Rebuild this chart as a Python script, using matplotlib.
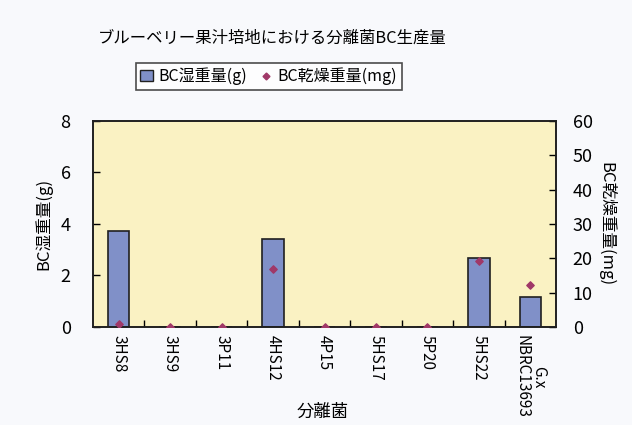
import matplotlib
matplotlib.use("Agg")
import matplotlib.pyplot as plt
from matplotlib.lines import Line2D
from matplotlib.patches import Patch

plt.rcParams['font.family'] = ['Noto Sans CJK JP', 'DejaVu Sans']

# Data
strains = ["3HS8", "3HS9", "3P11", "4HS12", "4P15", "5HS17", "5P20", "5HS22", "G.x\nNBRC13693"]
wet_g = [3.73, 0, 0, 3.42, 0, 0, 0, 2.67, 1.18]
dry_mg = [1.0, 0, 0, 16.8, 0, 0, 0, 19.3, 12.2]

title = "ブルーベリー果汁培地における分離菌BC生産量"
wet_label = "BC湿重量(g)"
dry_label = "BC乾燥重量(mg)"

# Colors
fig_bg = "#F8F9FC"
plot_bg = "#FAF2C3"
bar_color = "#8090C8"
dot_color = "#A03868"

fig = plt.figure(figsize=(6.32, 4.25), dpi=100, facecolor=fig_bg)
ax = fig.add_axes([0.147, 0.2306, 0.733, 0.4847])
ax.set_facecolor(plot_bg)

x = list(range(len(strains)))
ax.bar(x, wet_g, width=0.42, color=bar_color, edgecolor="#202020", linewidth=1.2, zorder=2)
ax.set_xlim(-0.5, len(strains) - 0.5)
ax.set_ylim(0, 8)
ax.set_yticks([0, 2, 4, 6, 8])
ax.set_xticks(x)
ax.set_xticklabels(strains, rotation=270, fontsize=11, va="top", ha="center",
                   multialignment="center", linespacing=1.0)
ax.set_xticks([i + 0.5 for i in x[:-1]], minor=True)
ax.tick_params(axis="x", which="major", length=0, pad=6)
ax.tick_params(axis="x", which="minor", direction="in", length=5, width=1)
ax.tick_params(axis="y", direction="in", length=5, width=1, labelsize=13, pad=16)
ax.set_ylabel(wet_label, fontsize=12, labelpad=6)
for s in ax.spines.values():
    s.set_linewidth(1.2)
    s.set_color("#202020")

ax2 = ax.twinx()
ax2.scatter(x, dry_mg, marker="D", s=14, color=dot_color, zorder=3)
ax2.set_ylim(0, 60)
ax2.set_yticks([0, 10, 20, 30, 40, 50, 60])
ax2.tick_params(axis="y", direction="in", length=5, width=1, labelsize=13, pad=12)
ax2.set_ylabel(dry_label, fontsize=12, rotation=270, labelpad=16)
for s in ax2.spines.values():
    s.set_linewidth(1.2)
    s.set_color("#202020")

fig.text(0.43, 0.91, title, fontsize=11.8, ha="center", va="center")
fig.text(0.51, 0.03, "分離菌", fontsize=12.5, ha="center", va="center")

handles = [
    Patch(facecolor=bar_color, edgecolor="#202020", linewidth=1),
    Line2D([], [], marker="D", linestyle="none", markersize=3.5, color=dot_color),
]
leg = fig.legend(handles, [wet_label, dry_label], loc="center", bbox_to_anchor=(0.425, 0.82),
                 ncol=2, fontsize=11.5, frameon=True, fancybox=False, handlelength=0.8,
                 handletextpad=0.3, columnspacing=0.8, borderpad=0.3)
leg.get_frame().set_edgecolor("#202020")
leg.get_frame().set_linewidth(1.2)
leg.get_frame().set_facecolor("white")

fig.savefig("out.png", dpi=100, facecolor=fig_bg)
